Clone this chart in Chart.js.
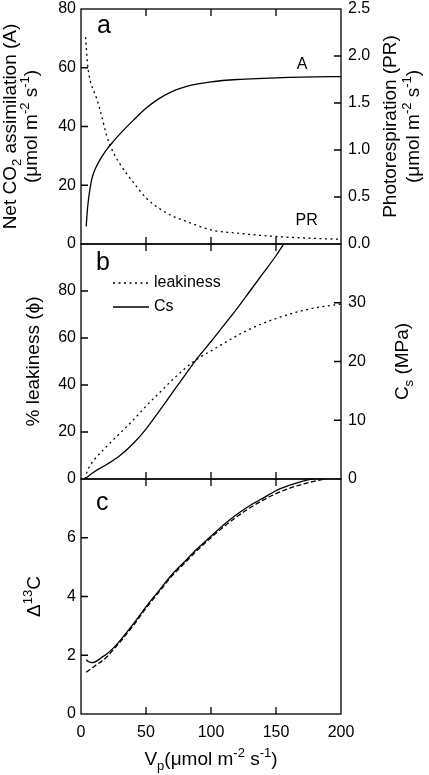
<!DOCTYPE html>
<html>
<head>
<meta charset="utf-8">
<script src="https://cdn.jsdelivr.net/npm/chart.js@4"></script>
<style>
  body { margin: 0; background: #fff; }
  #wrap { position: relative; width: 429px; height: 775px; }
  canvas { position: absolute; left: 0; }
</style>
</head>
<body>
<div id="wrap">
  <canvas id="ca" width="429" height="262" style="top:0px"></canvas>
  <canvas id="cb" width="429" height="268" style="top:228px"></canvas>
  <canvas id="cc" width="429" height="311" style="top:464px"></canvas>
</div>
<script>
// panel a: net assimilation (left) and photorespiration (right)
const vpA = [4, 5, 6, 8, 10, 12, 15, 20, 25, 30, 40, 50, 60, 70, 80, 90, 100, 120, 140, 160, 180, 200];
const aNet = [6, 12, 16, 21.5, 24.5, 26.5, 29, 32.3, 35, 37.5, 42, 46.2, 49.5, 51.9, 53.5, 54.5, 55.2, 56, 56.4, 56.7, 56.9, 57];
const vpPR = [3.5, 5, 7, 10, 12, 15, 20, 25, 30, 35, 40, 50, 60, 70, 80, 100, 120, 150, 175, 200];
const pr = [2.2, 1.92, 1.74, 1.62, 1.55, 1.41, 1.14, 0.97, 0.85, 0.75, 0.66, 0.49, 0.38, 0.3, 0.245, 0.15, 0.115, 0.08, 0.062, 0.05];

// panel b: leakiness (left) and Cs (right)
const vpLeak = [3, 5, 10, 20, 30, 40, 50, 60, 70, 80, 90, 100, 110, 120, 130, 140, 150, 160, 170, 180, 190, 200];
const leak = [0, 3.5, 8, 14, 19.5, 25, 31, 36.5, 42, 47, 51.3, 54.5, 57.8, 61, 63.8, 66.2, 68.3, 70.1, 71.6, 72.8, 73.7, 74.4];
const vpCs = [3, 10, 20, 30, 40, 50, 60, 70, 80, 90, 100, 110, 120, 130, 140, 150, 156];
const cs = [0, 1.2, 2.5, 4.0, 6.0, 8.5, 11.5, 14.6, 17.7, 20.7, 23.4, 26.2, 29, 32, 35, 38, 40];

// panel c: carbon isotope discrimination, two model curves
const vpD = [4, 6, 9, 12, 15, 20, 25, 30, 40, 50, 60, 70, 80, 90, 100, 110, 120, 130, 140, 150, 160, 170, 180];
const dSolid = [1.85, 1.78, 1.75, 1.8, 1.9, 2.05, 2.25, 2.5, 3.05, 3.65, 4.2, 4.75, 5.2, 5.65, 6.05, 6.45, 6.8, 7.1, 7.35, 7.6, 7.78, 7.92, 8.02];
const vpD2 = [4, 8, 12, 16, 20, 25, 30, 40, 50, 60, 70, 80, 90, 100, 110, 120, 130, 140, 150, 160, 170, 180, 190];
const dDashed = [1.42, 1.55, 1.68, 1.8, 1.95, 2.2, 2.45, 3.0, 3.6, 4.15, 4.7, 5.15, 5.6, 6.0, 6.38, 6.72, 7.02, 7.28, 7.5, 7.68, 7.82, 7.93, 8.02];

const xTicks = [0, 50, 100, 150, 200];

const FONT = '"Liberation Sans", Arial, sans-serif';
Chart.defaults.font.family = FONT;
Chart.defaults.font.size = 16;
Chart.defaults.color = '#000';

const pts = (xs, ys) => xs.map((x, i) => ({ x: x, y: ys[i] }));

function drawRich(ctx, parts, x, y, size, rot) {
  const small = Math.round(size * 0.68);
  ctx.save();
  ctx.translate(x, y);
  if (rot) ctx.rotate(-Math.PI / 2);
  let w = 0;
  parts.forEach(p => {
    ctx.font = ((p.sub || p.sup) ? small : size) + 'px ' + FONT;
    w += ctx.measureText(p.t).width;
  });
  let cx = -w / 2;
  ctx.textBaseline = 'middle';
  ctx.textAlign = 'left';
  ctx.fillStyle = '#000';
  parts.forEach(p => {
    ctx.font = ((p.sub || p.sup) ? small : size) + 'px ' + FONT;
    const dy = p.sub ? size * 0.32 : p.sup ? -size * 0.36 : 0;
    ctx.fillText(p.t, cx, dy);
    cx += ctx.measureText(p.t).width;
  });
  ctx.restore();
}

const unitParts = [{ t: '(\u03bcmol m' }, { t: '-2', sup: true }, { t: ' s' }, { t: '-1', sup: true }, { t: ')' }];

// frame with inward ticks, titles, labels
const frame = {
  id: 'frame',
  afterDraw(chart, args, opts) {
    const { ctx, chartArea: ca, scales } = chart;
    const t = 7;
    ctx.save();
    ctx.strokeStyle = '#000';
    ctx.lineWidth = 1.3;
    ctx.strokeRect(ca.left, ca.top, ca.right - ca.left, ca.bottom - ca.top);
    ctx.beginPath();
    xTicks.forEach(v => {
      if (v <= scales.x.min || v >= scales.x.max) return;
      const px = scales.x.getPixelForValue(v);
      ctx.moveTo(px, ca.top); ctx.lineTo(px, ca.top + t);
      ctx.moveTo(px, ca.bottom); ctx.lineTo(px, ca.bottom - t);
    });
    ['yL', 'yR'].forEach(id => {
      const s = scales[id];
      if (!s) return;
      s.ticks.forEach(k => {
        if (k.value <= s.min || k.value >= s.max) return;
        const py = s.getPixelForValue(k.value);
        if (id === 'yL') { ctx.moveTo(ca.left, py); ctx.lineTo(ca.left + t, py); }
        else { ctx.moveTo(ca.right, py); ctx.lineTo(ca.right - t, py); }
      });
    });
    ctx.stroke();

    const off = opts.offset || 0;
    (opts.titles || []).forEach(tt => drawRich(ctx, tt.parts, tt.x, tt.y - off, tt.size || 19, tt.rot));

    (opts.labels || []).forEach(l => {
      const s = scales[l.axis || 'yL'];
      ctx.font = (l.size || 16) + 'px ' + FONT;
      ctx.fillStyle = '#000';
      ctx.textAlign = 'left';
      ctx.textBaseline = 'alphabetic';
      ctx.fillText(l.text, scales.x.getPixelForValue(l.x), s.getPixelForValue(l.y));
    });

    if (opts.legend) {
      chart.data.datasets.forEach((ds, i) => {
        const y = ca.top + 39 + i * 24;
        ctx.save();
        ctx.strokeStyle = '#000';
        ctx.lineWidth = ds.borderWidth;
        ctx.setLineDash(ds.borderDash || []);
        ctx.beginPath();
        ctx.moveTo(ca.left + 32, y); ctx.lineTo(ca.left + 68, y);
        ctx.stroke();
        ctx.restore();
        ctx.font = '16px ' + FONT;
        ctx.textBaseline = 'middle';
        ctx.textAlign = 'left';
        ctx.fillText(ds.label, ca.left + 73, y);
      });
    }
    ctx.restore();
  }
};

function line(label, data, axis, dash) {
  return {
    label: label, data: data, yAxisID: axis,
    borderColor: '#000', borderWidth: 1.3, borderDash: dash || [],
    pointRadius: 0, fill: false, cubicInterpolationMode: 'monotone'
  };
}

function xAxis(show) {
  const ax = {
    type: 'linear', min: 0, max: 200, display: show,
    afterBuildTicks: s => { s.ticks = xTicks.map(v => ({ value: v })); },
    grid: { display: false, drawTicks: false },
    border: { display: false },
    ticks: { padding: 9, maxRotation: 0, font: { size: 16 } }
  };
  if (show) ax.afterFit = s => { s.height = 61; s.paddingLeft = 0; s.paddingRight = 0; };
  return ax;
}

function yAxis(pos, min, max, step, fmt, hideTop) {
  return {
    type: 'linear', position: pos, min: min, max: max,
    grid: { display: false, drawTicks: false },
    border: { display: false },
    ticks: {
      stepSize: step, padding: pos === 'left' ? 5 : 7,
      callback: v => (hideTop && v === max) ? null : fmt(v)
    },
    afterFit: s => {
      s.width = pos === 'left' ? 81 : 88;
      s.paddingTop = 0; s.paddingBottom = 0;
    }
  };
}

const plain = v => String(v);

new Chart(document.getElementById('ca'), {
  type: 'line',
  data: {
    datasets: [
      line('A', pts(vpA, aNet), 'yL'),
      line('PR', pts(vpPR, pr), 'yR', [2, 3.5])
    ]
  },
  options: {
    responsive: false, animation: false,
    layout: { padding: { top: 9, bottom: 18 } },
    plugins: {
      legend: { display: false }, tooltip: { enabled: false },
      frame: {
        offset: 0,
        titles: [
          { parts: [{ t: 'Net CO' }, { t: '2', sub: true }, { t: ' assimilation (A)' }], x: 11, y: 126.5, rot: true },
          { parts: unitParts, x: 32, y: 126.5, rot: true },
          { parts: [{ t: 'Photorespiration (PR)' }], x: 391, y: 126.5, rot: true },
          { parts: unitParts, x: 414, y: 126.5, rot: true }
        ],
        labels: [
          { text: 'a', x: 12.3, y: 72, size: 25 },
          { text: 'A', x: 166, y: 59.5 },
          { text: 'PR', x: 165, y: 0.2, axis: 'yR' }
        ]
      }
    },
    scales: {
      x: xAxis(false),
      yL: yAxis('left', 0, 80, 20, plain, false),
      yR: yAxis('right', 0, 2.5, 0.5, v => v.toFixed(1), false)
    }
  },
  plugins: [frame]
});

new Chart(document.getElementById('cb'), {
  type: 'line',
  data: {
    datasets: [
      line('leakiness', pts(vpLeak, leak), 'yL', [2, 3.5]),
      line('Cs', pts(vpCs, cs), 'yR')
    ]
  },
  options: {
    responsive: false, animation: false,
    layout: { padding: { top: 16, bottom: 17 } },
    plugins: {
      legend: { display: false }, tooltip: { enabled: false },
      frame: {
        offset: 228, legend: true,
        titles: [
          { parts: [{ t: '% leakiness (\u03d5)' }], x: 34, y: 361.5, rot: true },
          { parts: [{ t: 'C' }, { t: 's', sub: true }, { t: ' (MPa)' }], x: 403, y: 361.5, rot: true }
        ],
        labels: [
          { text: 'b', x: 11.5, y: 89, size: 25 }
        ]
      }
    },
    scales: {
      x: xAxis(false),
      yL: yAxis('left', 0, 100, 20, plain, true),
      yR: yAxis('right', 0, 40, 10, plain, true)
    }
  },
  plugins: [frame]
});

new Chart(document.getElementById('cc'), {
  type: 'line',
  data: {
    datasets: [
      line('solid', pts(vpD, dSolid), 'yL'),
      line('dashed', pts(vpD2, dDashed), 'yL', [5, 2.5])
    ]
  },
  options: {
    responsive: false, animation: false,
    layout: { padding: { top: 15, bottom: 0, right: 88 } },
    plugins: {
      legend: { display: false }, tooltip: { enabled: false },
      frame: {
        offset: 464,
        titles: [
          { parts: [{ t: '\u0394' }, { t: '13', sup: true }, { t: 'C' }], x: 35, y: 596.5, rot: true },
          { parts: [{ t: 'V' }, { t: 'p', sub: true }].concat(unitParts), x: 211, y: 760, rot: false }
        ],
        labels: [
          { text: 'c', x: 11.5, y: 6.94, size: 25 }
        ]
      }
    },
    scales: {
      x: xAxis(true),
      yL: yAxis('left', 0, 8, 2, plain, true)
    }
  },
  plugins: [frame]
});
</script>
</body>
</html>
